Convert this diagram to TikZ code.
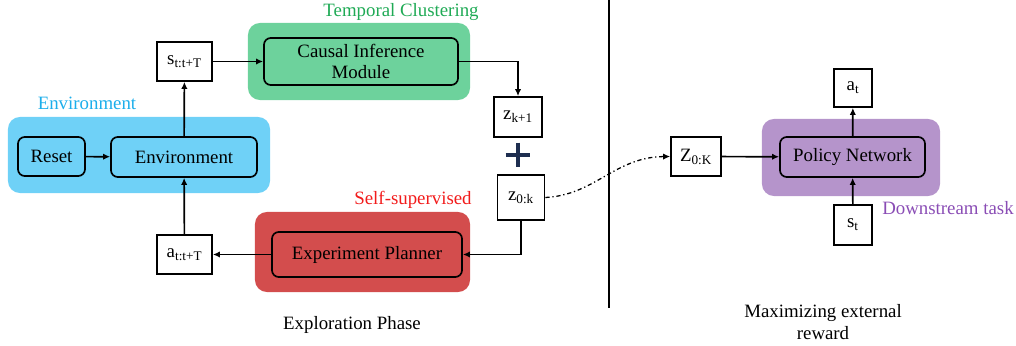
\documentclass[tikz,border=0pt]{standalone}
\usepackage{fontspec}
\setmainfont{Liberation Serif}
\usetikzlibrary{arrows.meta}

\definecolor{envblue}{HTML}{6FD1F7}
\definecolor{envtext}{HTML}{1CAEEB}
\definecolor{clustgreen}{HTML}{6DD29C}
\definecolor{clusttext}{HTML}{1FAA55}
\definecolor{planred}{HTML}{D34D4D}
\definecolor{plantext}{HTML}{F21B1B}
\definecolor{polpurple}{HTML}{B594CB}
\definecolor{poltext}{HTML}{8A4DB5}
\definecolor{plusnavy}{HTML}{1E2E50}

\tikzset{
  groupbg/.style={rounded corners=0.3cm, inner sep=0pt},
  block/.style={draw, line width=1.2pt, rounded corners=0.17cm, minimum height=1cm, align=center},
  varbox/.style={draw, line width=1.2pt, minimum width=1.375cm, minimum height=0.975cm, inner sep=1pt},
  link/.style={line width=1.2pt, -{Latex[length=5pt,width=4.5pt]}},
  plussign/.style={minimum size=0.62cm, path picture={
      \draw[plusnavy, line width=3.5pt]
        (path picture bounding box.north) -- (path picture bounding box.south)
        (path picture bounding box.west) -- (path picture bounding box.east);}}
}

\begin{document}
\begin{tikzpicture}[x=0.025cm, y=-0.025cm, font=\rmfamily\fontsize{13.4}{15.5}\selectfont]
    \useasboundingbox (0,0) rectangle (1016,346);

    % Fonds colorés des groupes
    \node[groupbg, fill=envblue, minimum width=6.55cm, minimum height=1.9cm] (envbg) at (139,155) {};
    \node[groupbg, fill=clustgreen, minimum width=5.55cm, minimum height=1.925cm] (clustbg) at (359,61.5) {};
    \node[groupbg, fill=planred, minimum width=5.375cm, minimum height=2cm] (planbg) at (362.5,252) {};
    \node[groupbg, fill=polpurple, minimum width=4.45cm, minimum height=1.925cm] (polbg) at (851,157.5) {};

    % Titres des groupes
    \node[text=envtext] (envlabel) at (87,103) {Environment};
    \node[text=clusttext] (clustlabel) at (401,12) {Temporal Clustering};
    \node[text=plantext] (planlabel) at (413,200) {Self-supervised};
    \node[text=poltext] (pollabel) at (948,208) {Downstream task};

    % Phase d'exploration
    \node[block, minimum width=1.675cm, minimum height=0.975cm] (reset) at (51.5,156.5) {Reset};
    \node[block, minimum width=3.65cm] (env) at (184,157) {Environment};
    \node[varbox] (states) at (184.5,61.5) {s\textsubscript{t:t+T}};
    \node[block, minimum width=4.85cm, minimum height=1.175cm] (causal) at (361,61.5) {Causal Inference\\Module};
    \node[varbox, minimum width=1.2cm, minimum height=1cm] (znext) at (518,117) {z\textsubscript{k+1}};
    \node[plussign] (plus) at (518,155) {};
    \node[varbox, minimum width=1.175cm, minimum height=1.125cm] (zpast) at (521,197.5) {z\textsubscript{0:k}};
    \node[block, minimum width=4.75cm, minimum height=1.125cm] (planner) at (367,254.5) {Experiment Planner};
    \node[varbox] (actions) at (184.5,254.5) {a\textsubscript{t:t+T}};

    % Tâche en aval
    \node[varbox, minimum width=1.25cm] (zall) at (696,156.5) {Z\textsubscript{0:K}};
    \node[block, minimum width=3.625cm] (policy) at (852.5,157) {Policy Network};
    \node[varbox, minimum width=0.95cm, minimum height=0.95cm] (act) at (853,88) {a\textsubscript{t}};
    \node[varbox, minimum width=0.95cm, minimum height=1cm] (obs) at (853,225) {s\textsubscript{t}};

    % Légendes du bas
    \node (explore) at (352,325) {Exploration Phase};
    \node[align=center] (maximize) at (823,322) {Maximizing external\\reward};

    % Séparation des deux phases
    \draw[line width=1.2pt] (609,0) -- (609,308);

    % Flèches de la phase d'exploration
    \draw[link] (reset) -- (env);
    \draw[link] (env) -- (states);
    \draw[link] (states) -- (causal);
    \draw[link] (causal.east) -| (znext.north);
    \draw[link] (zpast.south) |- (planner.east);
    \draw[link] (planner) -- (actions);
    \draw[link] (actions) -- (env);

    % Transfert vers la tâche en aval
    \draw[line width=0.9pt, dash dot, -{Latex[length=5pt,width=4.5pt]}] (zpast.east) .. controls (595,195) and (615,157) .. (zall.west);
    \draw[link] (zall) -- (policy);
    \draw[link] (policy) -- (act);
    \draw[link] (obs) -- (policy);

\end{tikzpicture}
\end{document}
